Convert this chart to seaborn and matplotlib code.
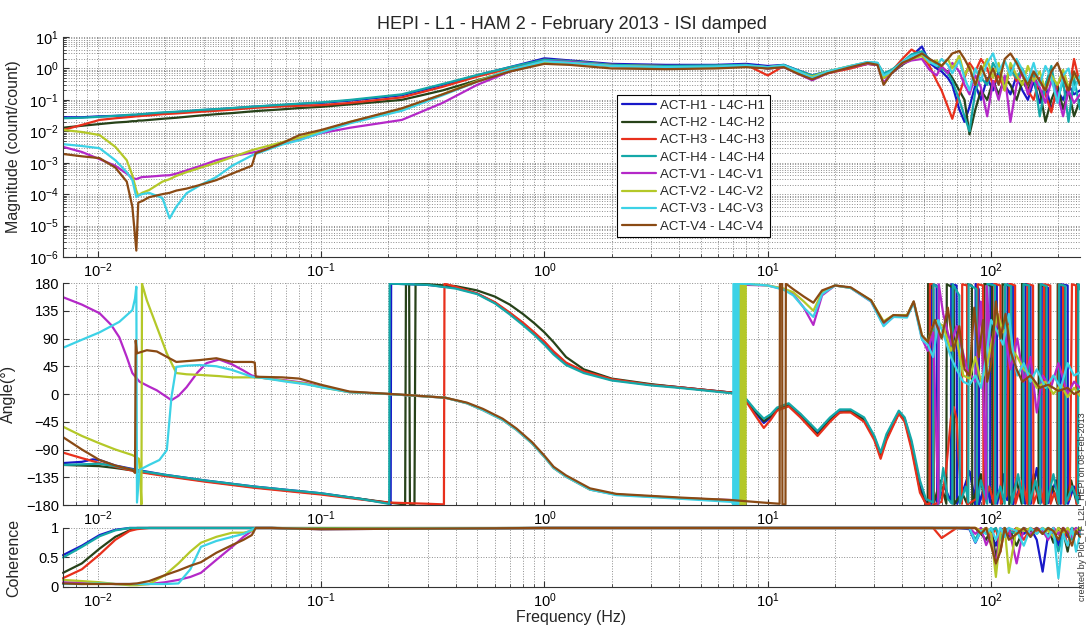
import numpy as np
import matplotlib
matplotlib.use('Agg')
import matplotlib.pyplot as plt
from matplotlib.ticker import LogLocator, NullFormatter, FixedLocator
import seaborn as sns

NAMES = ['ACT-H1 - L4C-H1', 'ACT-H2 - L4C-H2', 'ACT-H3 - L4C-H3', 'ACT-H4 - L4C-H4',
         'ACT-V1 - L4C-V1', 'ACT-V2 - L4C-V2', 'ACT-V3 - L4C-V3', 'ACT-V4 - L4C-V4']
COLORS = ['#1818c8', '#274219', '#e8301c', '#14a8a8',
          '#b428c8', '#b4c828', '#3cd2e6', '#8a4a14']

# magnitude (count/count)
F_MAG = [0.007, 0.0085, 0.0102, 0.012, 0.0135, 0.0143, 0.0149, 0.0152, 0.0158, 0.017,
         0.0195, 0.021, 0.0225, 0.025, 0.029, 0.034, 0.04, 0.049, 0.051, 0.067,
         0.08, 0.1, 0.135, 0.23, 0.35, 0.5, 0.7, 1.0, 1.3, 2.0,
         3.5, 5.8, 8.0, 10, 11.8, 13.5, 15.8, 18.5, 23.5, 28,
         31, 33, 35.8, 40, 44, 49, 53, 57, 60, 64,
         67, 72, 76, 80, 85, 90, 96, 102, 108, 115,
         122, 130, 138, 146, 155, 165, 175, 186, 198, 210,
         222, 235, 250]
MAG_H1 = [0.028, 0.028, 0.03, 0.031, 0.032, 0.033, 0.033, 0.034, 0.035, 0.036,
          0.038, 0.04, 0.041, 0.043, 0.047, 0.05, 0.054, 0.06, 0.061, 0.068,
          0.074, 0.08, 0.095, 0.14, 0.3, 0.6, 1.1, 2.1, 1.8, 1.4,
          1.3, 1.3, 1.4, 1.2, 1.3, 0.9, 0.6, 0.8, 1.1, 1.5,
          1.4, 0.6, 0.8, 1.5, 2.5, 5.0, 1.5, 1.0, 0.8, 0.5,
          0.3, 0.05, 0.02, 0.06, 0.3, 0.1, 0.5, 0.2, 0.8, 0.3,
          0.15, 0.6, 0.2, 0.1, 0.4, 0.08, 0.3, 0.05, 0.2, 0.1,
          0.3, 0.15, 0.2]
MAG_H2 = [0.013, 0.015, 0.017, 0.019, 0.02, 0.021, 0.021, 0.022, 0.022, 0.023,
          0.025, 0.026, 0.027, 0.029, 0.032, 0.035, 0.038, 0.043, 0.044, 0.05,
          0.055, 0.06, 0.072, 0.1, 0.2, 0.42, 0.8, 1.6, 1.6, 1.2,
          1.1, 1.1, 1.2, 1.0, 1.1, 0.8, 0.55, 0.75, 1.1, 1.4,
          1.3, 0.5, 0.7, 1.3, 2.0, 3.0, 1.8, 1.2, 1.0, 0.8,
          0.5, 0.2, 0.1, 0.008, 0.05, 0.2, 0.1, 0.4, 0.15, 0.5,
          0.3, 0.1, 0.4, 0.2, 0.6, 0.2, 0.02, 0.1, 0.3, 0.05,
          0.2, 0.03, 0.1]
MAG_H3 = [0.011, 0.016, 0.023, 0.026, 0.028, 0.029, 0.03, 0.03, 0.031, 0.032,
          0.035, 0.036, 0.037, 0.039, 0.042, 0.045, 0.049, 0.055, 0.056, 0.062,
          0.065, 0.068, 0.08, 0.12, 0.26, 0.55, 1.0, 1.9, 1.7, 1.3,
          1.2, 1.2, 1.3, 0.6, 1.2, 0.8, 0.5, 0.7, 1.0, 1.4,
          1.3, 0.5, 0.8, 2.0, 4.0, 2.5, 1.2, 0.4, 0.2, 0.06,
          0.025, 0.15, 0.5, 1.5, 0.8, 2.0, 1.0, 0.3, 0.6, 0.2,
          1.2, 0.4, 0.8, 0.2, 0.1, 0.5, 0.15, 0.04, 0.3, 0.6,
          0.15, 2.0, 0.3]
MAG_H4 = [0.026, 0.027, 0.029, 0.031, 0.033, 0.034, 0.034, 0.035, 0.035, 0.037,
          0.04, 0.041, 0.042, 0.044, 0.048, 0.051, 0.055, 0.061, 0.062, 0.07,
          0.076, 0.083, 0.1, 0.15, 0.32, 0.62, 1.1, 1.9, 1.7, 1.3,
          1.2, 1.25, 1.3, 1.1, 1.3, 0.9, 0.6, 0.8, 1.2, 1.6,
          1.5, 0.7, 0.9, 1.6, 2.8, 3.5, 2.0, 1.3, 1.0, 0.7,
          0.4, 0.1, 0.03, 0.01, 0.2, 0.5, 0.3, 1.5, 0.7, 0.4,
          0.9, 0.5, 1.0, 0.3, 0.7, 0.03, 0.3, 1.2, 0.1, 0.4,
          0.02, 0.5, 0.05]
MAG_V1 = [0.0032, 0.0022, 0.0013, 0.0008, 0.00045, 0.00033, 0.0003, 0.00032, 0.00035, 0.00036,
          0.00039, 0.0004, 0.00045, 0.00057, 0.0008, 0.0012, 0.0016, 0.0021, 0.0022, 0.004,
          0.0055, 0.0087, 0.013, 0.023, 0.08, 0.3, 0.8, 1.7, 1.6, 1.2,
          1.1, 1.1, 1.2, 1.0, 1.1, 0.7, 0.42, 0.7, 1.1, 1.4,
          1.3, 0.35, 0.7, 1.4, 1.8, 2.0, 0.9, 0.6, 1.2, 0.7,
          1.5, 0.8, 0.3, 0.15, 0.6, 0.25, 0.03, 0.4, 0.1, 0.6,
          0.02, 0.3, 0.8, 0.15, 0.5, 0.25, 0.08, 0.4, 0.15, 0.03,
          0.2, 0.08, 0.15]
MAG_V2 = [0.011, 0.0095, 0.0076, 0.0032, 0.0012, 0.0004, 0.00013, 0.00009, 0.00011, 0.000135,
          0.00025, 0.0003, 0.00038, 0.0005, 0.0007, 0.001, 0.0015, 0.0025, 0.0027, 0.0045,
          0.0063, 0.01, 0.02, 0.05, 0.15, 0.4, 0.9, 1.6, 1.5, 1.2,
          1.1, 1.1, 1.2, 1.1, 1.2, 0.8, 0.55, 0.8, 1.2, 1.5,
          1.4, 0.5, 0.8, 1.5, 2.0, 2.5, 1.5, 1.8, 1.2, 2.0,
          1.0, 2.5, 0.6, 1.2, 0.3, 0.8, 2.0, 0.5, 1.5, 0.2,
          1.5, 0.6, 0.3, 1.2, 0.4, 0.8, 0.2, 0.6, 0.3, 0.9,
          0.25, 0.6, 0.4]
MAG_V3 = [0.0039, 0.0034, 0.0029, 0.0012, 0.0005, 0.00028, 0.00008, 0.00009, 0.0001, 0.00011,
          0.000075, 0.000017, 0.00004, 0.000107, 0.0002, 0.00035, 0.0008, 0.0017, 0.0019, 0.0038,
          0.0052, 0.009, 0.018, 0.045, 0.14, 0.38, 0.9, 1.7, 1.5, 1.2,
          1.1, 1.15, 1.25, 1.1, 1.25, 0.85, 0.5, 0.8, 1.2, 1.6,
          1.5, 0.6, 0.8, 1.6, 2.5, 3.0, 1.6, 1.2, 2.0, 1.3,
          0.7, 1.8, 0.5, 0.2, 1.0, 0.4, 1.5, 3.0, 0.8, 1.8,
          0.6, 2.0, 0.9, 0.4, 1.5, 0.3, 1.2, 0.5, 0.08, 0.6,
          1.0, 0.2, 0.6]
MAG_V4 = [0.0019, 0.0016, 0.0014, 0.0007, 0.00025, 0.00004, 0.0000016, 0.000054, 0.00006, 0.00008,
          0.0001, 0.00011, 0.00013, 0.00015, 0.0002, 0.00028, 0.00045, 0.0008, 0.002, 0.0042,
          0.0076, 0.011, 0.02, 0.054, 0.15, 0.38, 0.8, 1.4, 1.3, 1.0,
          0.95, 1.0, 1.1, 1.0, 1.1, 0.7, 0.45, 0.7, 1.1, 1.5,
          1.3, 0.3, 0.7, 1.5, 2.0, 3.0, 2.0, 1.5, 1.2, 2.0,
          3.0, 3.6, 2.0, 1.0, 0.3, 1.2, 0.4, 1.0, 0.3, 2.0,
          3.0, 1.5, 0.6, 0.3, 0.8, 0.4, 0.2, 0.8, 1.5, 0.5,
          0.2, 0.8, 0.3]

# phase (deg) as (frequency, angle) pairs; wraps give the vertical strokes
PHASE_H1 = [(0.007, -112), (0.0085, -110), (0.0095, -106), (0.0102, -107), (0.012, -116), (0.015, -123),
            (0.02, -131), (0.03, -140), (0.05, -150), (0.1, -161), (0.15, -170), (0.2, -177),
            (0.205, -179), (0.206, 179), (0.3, 177), (0.4, 172), (0.5, 163), (0.6, 148),
            (0.7, 131), (0.8, 115), (0.9, 99), (1.0, 84), (1.1, 68), (1.25, 50), (1.5, 36),
            (2.0, 23), (3.0, 15), (4.0, 11), (7.0, 2), (8.0, -10), (8.8, -30), (9.6, -47),
            (10.3, -38), (11, -26), (12.4, -18), (14, -35), (16.7, -63), (19, -40), (21, -28),
            (23.5, -28), (27, -40), (30, -70), (32, -99), (34, -70), (38.6, -30), (41, -40),
            (44, -80), (48, -150), (51, -175), (54, -178), (54.2, 178), (57, 176), (57.3, -178),
            (62, -150), (66, -176), (66.3, 178), (70, 176), (70.4, -178), (76, -150), (80, -125),
            (84, -165), (85, -179), (85.2, 179), (88, 170), (88.3, -179), (95, -140), (99, -176),
            (99.3, 179), (106, 176), (106.4, -178), (113, -130), (118, -172), (118.4, 178),
            (125, 175), (125.4, -179), (135, -150), (142, -178), (142.4, 179), (150, 176),
            (150.5, -178), (160, -120), (168, -176), (168.5, 178), (180, 172), (180.6, -177),
            (195, -140), (205, -178), (205.6, 178), (220, 176), (220.7, -178), (235, -150),
            (250, -170)]
PHASE_H2 = [(0.007, -115), (0.0085, -116), (0.0102, -117), (0.012, -120), (0.015, -125), (0.02, -132),
            (0.03, -141), (0.05, -151), (0.1, -162), (0.15, -170), (0.2, -176), (0.238, -179),
            (0.24, 179), (0.248, 179), (0.25, -179), (0.262, -179), (0.265, 179), (0.3, 178),
            (0.4, 175), (0.5, 168), (0.6, 158), (0.7, 145), (0.8, 130), (0.9, 115), (1.0, 100),
            (1.1, 84), (1.25, 60), (1.5, 40), (2.0, 25), (3.0, 16), (4.0, 11), (7.0, 2),
            (8.0, -9), (8.8, -28), (9.6, -44), (10.3, -36), (11, -24), (12.4, -17), (14, -33),
            (16.7, -66), (19, -42), (21, -30), (23.5, -27), (27, -42), (30, -72), (32, -100),
            (34, -72), (38.6, -31), (41, -42), (44, -85), (48, -155), (51, -178), (52, -179),
            (52.2, 179), (55, 170), (55.3, -179), (59, -140), (63, -178), (63.3, 178), (68, 172),
            (68.4, -179), (74, -160), (78, -178), (78.3, 178), (82, 176), (82.3, -179), (90, -130),
            (93, -178), (93.3, 179), (101, 175), (101.4, -179), (108, -160), (112, -178),
            (112.4, 178), (120, 176), (120.5, -179), (130, -140), (137, -178), (137.5, 179),
            (146, 176), (146.5, -178), (155, -130), (163, -177), (163.5, 178), (174, 174),
            (174.6, -179), (188, -150), (198, -178), (198.6, 178), (213, 175), (213.7, -178),
            (228, -140), (242, -178), (242.7, 178), (250, 170)]
PHASE_H3 = [(0.007, -95), (0.0085, -104), (0.0102, -112), (0.012, -118), (0.015, -126), (0.02, -133),
            (0.03, -142), (0.05, -152), (0.1, -163), (0.15, -171), (0.2, -176), (0.3, -178),
            (0.355, -179), (0.357, 179), (0.4, 174), (0.5, 163), (0.6, 149), (0.7, 132),
            (0.8, 116), (0.9, 100), (1.0, 85), (1.1, 69), (1.25, 51), (1.5, 37), (2.0, 24),
            (3.0, 15), (4.0, 11), (7.0, 2), (8.0, -12), (8.8, -35), (9.6, -55), (10.3, -42),
            (11, -27), (12.4, -20), (14, -38), (16.7, -68), (19, -45), (21, -30), (23.5, -30),
            (27, -45), (30, -75), (32, -105), (34, -75), (38.6, -32), (41, -45), (44, -90),
            (48, -160), (51, -178), (53, -179), (53.2, 179), (55, 178), (55.2, -179), (60, -175),
            (63, -120), (66, -40), (68, -21), (70, -40), (72, -120), (74, -178), (74.2, 178),
            (78, 176), (78.3, -179), (86, -170), (87, 178), (92, 176), (92.4, -179), (98, -150),
            (103, -178), (103.4, 179), (110, 176), (110.4, -178), (117, -165), (121, 179),
            (128, 176), (128.5, -178), (138, -140), (145, -178), (145.5, 178), (154, 176),
            (154.6, -178), (165, -150), (172, -178), (172.6, 178), (184, 176), (184.7, -178),
            (192, -160), (200, -178), (200.7, 178), (210, 176), (210.7, -178), (225, -170),
            (230, 178), (240, 176), (240.8, -178), (250, -160)]
PHASE_H4 = [(0.007, -115), (0.0085, -114), (0.0102, -113), (0.012, -117), (0.015, -124), (0.02, -131),
            (0.03, -140), (0.05, -150), (0.1, -161), (0.15, -170), (0.2, -178), (0.202, -179),
            (0.203, 179), (0.3, 177), (0.4, 171), (0.5, 162), (0.6, 147), (0.7, 129), (0.8, 112),
            (0.9, 96), (1.0, 80), (1.1, 64), (1.25, 47), (1.5, 34), (2.0, 22), (3.0, 14),
            (4.0, 10), (7.0, 1), (8.0, -8), (8.8, -26), (9.6, -40), (10.3, -33), (11, -22),
            (12.4, -15), (14, -32), (16.7, -60), (19, -38), (21, -25), (23.5, -25), (27, -38),
            (30, -68), (32, -95), (34, -65), (38.6, -27), (41, -38), (44, -75), (48, -140),
            (51, -170), (55, -176), (55.2, 178), (58, 172), (58.3, -178), (61, -120), (64, -170),
            (67, -178), (67.3, 178), (72, 160), (72.4, -178), (77, -150), (79, -176), (79.3, 178),
            (86, 170), (86.3, -179), (90, -140), (96, -178), (96.3, 179), (104, 176),
            (104.4, -178), (110, -150), (115, -178), (115.4, 178), (123, 175), (123.5, -178),
            (132, -130), (139, -177), (139.5, 178), (148, 176), (148.5, -178), (158, -140),
            (166, -178), (166.5, 178), (177, 175), (177.6, -178), (190, -130), (201, -178),
            (201.6, 178), (215, 175), (215.7, -178), (231, -150), (245, -177), (245.8, 178),
            (250, 170)]
PHASE_V1 = [(0.007, 157), (0.0085, 145), (0.0102, 131), (0.0115, 112), (0.0125, 92), (0.0135, 60),
            (0.0143, 34), (0.0154, 20), (0.017, 12), (0.0184, 6), (0.0214, -10), (0.023, -3),
            (0.025, 11), (0.028, 35), (0.0307, 50), (0.035, 56), (0.04, 48), (0.045, 38),
            (0.049, 30), (0.055, 26), (0.07, 22), (0.085, 18), (0.1, 12), (0.134, 3), (0.2, 0),
            (0.36, -6), (0.45, -15), (0.53, -26), (0.65, -42), (0.75, -58), (0.88, -80),
            (1.0, -102), (1.1, -120), (1.25, -134), (1.6, -155), (2.1, -163), (4.1, -169),
            (6.9, -172), (7.1, -179), (7.15, 179), (8.0, 177), (10, 176), (11.8, 170), (13, 162),
            (14.5, 140), (16, 112), (17.5, 160), (20, 176), (23.5, 172), (29, 150), (33, 112),
            (36.5, 125), (42, 126), (45, 150), (49, 90), (52, 70), (55, 100), (58, -178),
            (58.3, 178), (61, 130), (66, 80), (70, 110), (78, 40), (85, 20), (90, 150),
            (95, -170), (95.5, 175), (100, 60), (107, 120), (115, 100), (122, 40), (131, 90),
            (140, 20), (150, 60), (160, -30), (170, 30), (185, 10), (200, 50), (220, 0),
            (235, 20), (250, 10)]
PHASE_V2 = [(0.007, -53), (0.0085, -68), (0.0102, -80), (0.012, -90), (0.0143, -99), (0.0153, -105),
            (0.0155, -130), (0.0157, -179), (0.0158, 179), (0.0166, 152), (0.0184, 109),
            (0.0204, 66), (0.0225, 34), (0.025, 32), (0.0286, 31), (0.035, 29), (0.04, 27),
            (0.049, 27), (0.055, 26), (0.07, 21), (0.085, 17), (0.1, 11), (0.134, 3), (0.2, 0),
            (0.36, -6), (0.45, -15), (0.53, -26), (0.65, -42), (0.75, -58), (0.88, -80),
            (1.0, -102), (1.1, -120), (1.25, -134), (1.6, -155), (2.1, -163), (4.1, -169),
            (7.4, -173), (7.5, -179), (7.52, 179), (7.6, 179), (7.62, -179), (7.75, -179),
            (7.77, 179), (7.85, 179), (7.87, -179), (7.95, -179), (7.97, 179), (8.5, 178),
            (10, 176), (11.8, 171), (13, 165), (14.5, 150), (16, 135), (17.5, 165), (20, 176),
            (23.5, 172), (29, 152), (33, 118), (36.5, 128), (42, 128), (45, 150), (49, 95),
            (52, 85), (56, 120), (61, 110), (66, 70), (70, 90), (75, 30), (80, 25), (85, 60),
            (90, 20), (95, 40), (100, 80), (107, 130), (113, 100), (120, 110), (125, 70),
            (131, 60), (140, 40), (150, 30), (160, 10), (175, 20), (190, 0), (205, 15),
            (220, -5), (235, 10), (250, -3)]
PHASE_V3 = [(0.007, 75), (0.0085, 88), (0.0102, 100), (0.0125, 117), (0.0143, 136), (0.0147, 155),
            (0.0149, 174), (0.015, -176), (0.0154, -123), (0.017, -115), (0.0189, -107),
            (0.0204, -91), (0.0214, -5), (0.0225, 44), (0.025, 46), (0.0286, 47), (0.034, 45),
            (0.04, 39), (0.049, 28), (0.055, 26), (0.07, 20), (0.085, 16), (0.1, 11), (0.134, 3),
            (0.2, 0), (0.36, -6), (0.45, -15), (0.53, -26), (0.65, -42), (0.75, -58),
            (0.88, -80), (1.0, -102), (1.1, -120), (1.25, -134), (1.6, -155), (2.1, -164),
            (4.1, -170), (6.9, -175), (7.0, -179), (7.02, 179), (7.1, 179), (7.12, -179),
            (7.2, -179), (7.22, 179), (7.3, 179), (7.32, -179), (7.38, -179), (7.4, 179),
            (8.5, 178), (10, 176), (11.8, 169), (13, 160), (14.5, 140), (16, 125), (17.5, 162),
            (20, 176), (23.5, 172), (29, 150), (33, 110), (36.5, 125), (42, 124), (45, 148),
            (49, 88), (52, 80), (55, 60), (58, 120), (62, 90), (66, 60), (70, 40), (75, 20),
            (80, 15), (85, 30), (90, 10), (95, 60), (100, 120), (107, 100), (113, 80),
            (120, 130), (126, 60), (131, 30), (140, 50), (150, 20), (160, 40), (175, 10),
            (190, 30), (205, 10), (220, 50), (235, 30), (250, 35)]
PHASE_V4 = [(0.007, -70), (0.0085, -90), (0.0102, -107), (0.012, -116), (0.0143, -123),
            (0.0147, -128), (0.0148, 87), (0.015, 66), (0.0166, 71), (0.0184, 69), (0.0225, 52),
            (0.0286, 55), (0.034, 58), (0.04, 52), (0.049, 52), (0.0505, 51), (0.051, 28),
            (0.067, 27), (0.08, 25), (0.1, 15), (0.134, 4), (0.23, -1), (0.36, -6), (0.45, -14),
            (0.53, -24), (0.65, -40), (0.75, -56), (0.88, -78), (1.0, -100), (1.1, -118),
            (1.25, -132), (1.6, -153), (2.1, -162), (4.1, -168), (6.9, -172), (9.5, -176),
            (11.3, -178), (11.33, 179), (11.6, 179), (11.63, -179), (12.0, -179), (12.05, 179),
            (13, 170), (14.5, 158), (16, 148), (17.5, 168), (20, 176), (23.5, 173), (29, 152),
            (33, 116), (36.5, 128), (42, 127), (45, 150), (49, 95), (52, 85), (56, 120),
            (60, 90), (64, 140), (68, 70), (72, 110), (76, 40), (80, 30), (84, 140), (88, 60),
            (92, 120), (96, 20), (100, 50), (105, 150), (110, 90), (116, 130), (122, 70),
            (130, 40), (138, 20), (150, 30), (165, 10), (180, 15), (200, 5), (220, 10),
            (235, 0), (250, 5)]

# coherence
F_COH = [0.007, 0.0085, 0.0102, 0.012, 0.0139, 0.015, 0.017, 0.02, 0.023, 0.026,
         0.029, 0.034, 0.04, 0.045, 0.049, 0.051, 0.06, 0.1, 1.0, 10,
         30, 45, 50, 52, 55, 60, 70, 80, 85, 90,
         95, 100, 105, 110, 115, 120, 130, 140, 150, 160,
         170, 180, 190, 200, 210, 220, 230, 240, 250]
COH_H1 = [0.54, 0.7, 0.88, 0.97, 1.0, 1.0, 1.0, 1.0, 1.0, 1.0,
          1.0, 1.0, 1.0, 1.0, 1.0, 1.0, 1.0, 0.99, 1.0, 1.0,
          1.0, 1.0, 1.0, 1.0, 1.0, 1.0, 1.0, 0.98, 0.75, 0.95,
          1.0, 0.9, 0.7, 0.95, 1.0, 0.85, 1.0, 0.9, 1.0, 0.8,
          0.26, 0.9, 1.0, 0.7, 1.0, 0.85, 1.0, 0.9, 1.0]
COH_H2 = [0.24, 0.4, 0.65, 0.85, 0.96, 1.0, 1.0, 1.0, 1.0, 1.0,
          1.0, 1.0, 1.0, 1.0, 1.0, 1.0, 1.0, 1.0, 1.0, 1.0,
          1.0, 1.0, 1.0, 1.0, 1.0, 1.0, 1.0, 1.0, 1.0, 0.9,
          0.8, 1.0, 0.5, 0.9, 0.85, 1.0, 0.7, 1.0, 0.95, 1.0,
          0.9, 1.0, 0.75, 1.0, 0.95, 0.6, 1.0, 0.95, 1.0]
COH_H3 = [0.15, 0.3, 0.55, 0.8, 0.95, 0.98, 1.0, 1.0, 1.0, 1.0,
          1.0, 1.0, 1.0, 1.0, 1.0, 1.0, 1.0, 0.98, 1.0, 1.0,
          1.0, 1.0, 1.0, 1.0, 1.0, 0.83, 1.0, 1.0, 1.0, 0.95,
          1.0, 0.85, 1.0, 0.6, 1.0, 0.9, 1.0, 0.8, 1.0, 0.95,
          1.0, 0.85, 1.0, 0.9, 1.0, 0.7, 0.95, 1.0, 0.9]
COH_H4 = [0.5, 0.68, 0.86, 0.96, 1.0, 1.0, 1.0, 1.0, 1.0, 1.0,
          1.0, 1.0, 1.0, 1.0, 1.0, 1.0, 1.0, 0.99, 1.0, 1.0,
          1.0, 1.0, 1.0, 1.0, 1.0, 1.0, 1.0, 1.0, 0.8, 1.0,
          0.9, 0.95, 1.0, 0.8, 1.0, 0.95, 0.9, 1.0, 0.85, 1.0,
          0.95, 1.0, 0.9, 0.6, 0.9, 1.0, 0.8, 1.0, 0.95]
COH_V1 = [0.08, 0.07, 0.06, 0.05, 0.05, 0.05, 0.05, 0.08, 0.12, 0.17,
          0.24, 0.46, 0.68, 0.85, 0.95, 1.0, 1.0, 0.98, 1.0, 1.0,
          1.0, 1.0, 1.0, 1.0, 1.0, 1.0, 1.0, 1.0, 0.9, 1.0,
          0.71, 0.9, 0.35, 1.0, 0.9, 1.0, 0.4, 1.0, 0.9, 1.0,
          0.95, 0.8, 1.0, 0.9, 1.0, 0.95, 0.85, 1.0, 0.9]
COH_V2 = [0.12, 0.1, 0.08, 0.05, 0.03, 0.03, 0.05, 0.2, 0.4, 0.6,
          0.75, 0.85, 0.92, 0.92, 0.95, 1.0, 1.0, 0.99, 1.0, 1.0,
          1.0, 1.0, 1.0, 1.0, 1.0, 1.0, 1.0, 1.0, 1.0, 0.95,
          1.0, 0.9, 0.17, 0.9, 1.0, 0.24, 1.0, 0.95, 1.0, 0.9,
          1.0, 0.95, 0.85, 1.0, 0.9, 1.0, 0.9, 0.95, 1.0]
COH_V3 = [0.05, 0.05, 0.06, 0.05, 0.05, 0.05, 0.05, 0.05, 0.06, 0.3,
          0.68, 0.78, 0.85, 0.9, 0.97, 1.0, 1.0, 0.98, 1.0, 1.0,
          1.0, 1.0, 1.0, 1.0, 1.0, 1.0, 1.0, 1.0, 0.76, 0.95,
          0.9, 1.0, 0.8, 1.0, 0.85, 1.0, 0.95, 0.7, 1.0, 0.9,
          1.0, 0.85, 1.0, 0.15, 0.9, 0.7, 1.0, 0.6, 0.9]
COH_V4 = [0.06, 0.05, 0.05, 0.05, 0.05, 0.06, 0.1, 0.2, 0.28, 0.36,
          0.42, 0.58, 0.71, 0.8, 0.88, 1.0, 1.0, 0.98, 1.0, 1.0,
          1.0, 1.0, 1.0, 1.0, 1.0, 1.0, 1.0, 1.0, 1.0, 0.9,
          1.0, 0.7, 0.4, 0.6, 1.0, 0.8, 0.9, 1.0, 0.85, 1.0,
          0.9, 1.0, 0.95, 0.8, 1.0, 0.9, 0.7, 0.95, 0.85]

MAGS = [MAG_H1, MAG_H2, MAG_H3, MAG_H4, MAG_V1, MAG_V2, MAG_V3, MAG_V4]
PHASES = [PHASE_H1, PHASE_H2, PHASE_H3, PHASE_H4, PHASE_V1, PHASE_V2, PHASE_V3, PHASE_V4]
COHS = [COH_H1, COH_H2, COH_H3, COH_H4, COH_V1, COH_V2, COH_V3, COH_V4]
for m in MAGS:
    assert len(m) == len(F_MAG), len(m)
for c in COHS:
    assert len(c) == len(F_COH), len(c)

sns.set_style('white')
plt.rcParams['font.family'] = ['Liberation Sans', 'DejaVu Sans']

fig = plt.figure(figsize=(10.87, 6.33), dpi=100)
ax1 = fig.add_axes([0.058, 0.594, 0.9356, 0.3475])
ax2 = fig.add_axes([0.058, 0.2022, 0.9356, 0.3507])
ax3 = fig.add_axes([0.058, 0.0727, 0.9356, 0.0932])

grid_kw = dict(ls=':', color='#8c8c8c', lw=0.7)
for ax in (ax1, ax2, ax3):
    ax.set_xscale('log')
    ax.set_xlim(0.007, 250)
    ax.xaxis.set_major_locator(LogLocator(base=10, numticks=10))
    ax.xaxis.set_minor_locator(LogLocator(base=10, subs=np.arange(2, 10), numticks=20))
    ax.xaxis.set_minor_formatter(NullFormatter())
    for s in ('top', 'right'):
        ax.spines[s].set_visible(False)
    for s in ('left', 'bottom'):
        ax.spines[s].set_color('#333333')
        ax.spines[s].set_linewidth(0.8)
    ax.tick_params(which='both', direction='in', colors='#333333', labelcolor='black',
                   labelsize=10.5, bottom=True, left=True)
    ax.tick_params(which='major', length=4, pad=3)
    ax.tick_params(which='minor', length=2.5)
    ax.grid(True, which='both', **grid_kw)
    ax.set_axisbelow(True)

for name, color, mag, ph, coh in zip(NAMES, COLORS, MAGS, PHASES, COHS):
    sns.lineplot(x=F_MAG, y=mag, ax=ax1, color=color, lw=1.6, label=name,
                 estimator=None, sort=False)
    pf, pv = zip(*ph)
    sns.lineplot(x=list(pf), y=list(pv), ax=ax2, color=color, lw=1.6, legend=False,
                 estimator=None, sort=False)
    sns.lineplot(x=F_COH, y=coh, ax=ax3, color=color, lw=1.6, legend=False,
                 estimator=None, sort=False, clip_on=False)

ax1.set_yscale('log')
ax1.set_ylim(1e-6, 10)
ax1.yaxis.set_major_locator(LogLocator(base=10, numticks=15))
ax1.yaxis.set_minor_locator(LogLocator(base=10, subs=np.arange(2, 10), numticks=15))
ax1.yaxis.set_minor_formatter(NullFormatter())
ax1.set_ylabel('Magnitude (count/count)', fontsize=11.5)
ax1.yaxis.set_label_coords(-0.041, 0.5)
ax1.set_title('HEPI - L1 - HAM 2 - February 2013 - ISI damped', fontsize=13, pad=6)

ax2.set_ylim(-180, 180)
ax2.yaxis.set_major_locator(FixedLocator(np.arange(-180, 181, 45)))
ax2.set_ylabel('Angle(°)', fontsize=11.5)
ax2.yaxis.set_label_coords(-0.046, 0.5)

ax3.set_ylim(0, 1)
ax3.yaxis.set_major_locator(FixedLocator([0, 0.5, 1]))
ax3.set_yticklabels(['0', '0.5', '1'])
ax3.set_ylabel('Coherence', fontsize=11.5)
ax3.yaxis.set_label_coords(-0.041, 0.5)
ax3.set_xlabel('Frequency (Hz)', fontsize=11.5, labelpad=0)

leg = ax1.legend(loc='upper left', bbox_to_anchor=(0.545, 0.736), fontsize=9.5,
                 frameon=True, fancybox=False, edgecolor='black', framealpha=1,
                 borderpad=0.35, labelspacing=0.38, handlelength=2.6,
                 handletextpad=0.3, borderaxespad=0)
leg.get_frame().set_linewidth(0.8)

fig.text(0.9963, 0.2, 'created by Plot_TF_L2L_HEPI on 08-Feb-2013', rotation=90,
         fontsize=6.5, color='#333333', ha='center', va='center')

fig.savefig('out.png', dpi=100)
